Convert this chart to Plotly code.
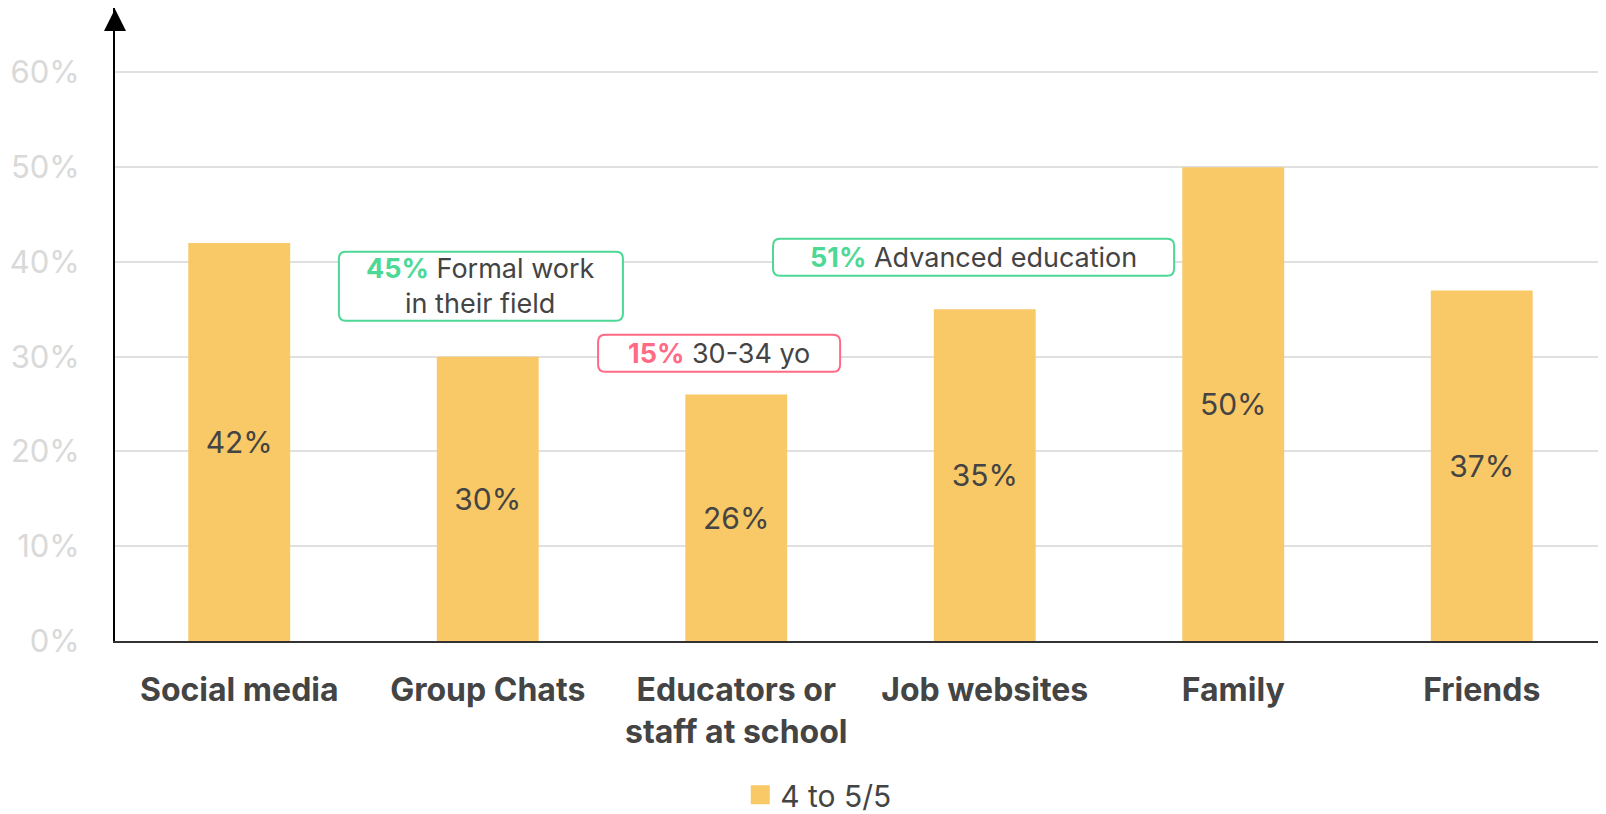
import plotly.graph_objects as go

categories = ["Social media", "Group Chats", "Educators or<br>staff at school", "Job websites", "Family", "Friends"]
values = [42, 30, 26, 35, 50, 37]
series_name = "4 to 5/5"
tick_vals = [0, 10, 20, 30, 40, 50, 60]
tick_text = ["0%", "10%", "20%", "30%", "40%", "50%", "60%"]

callout_pcts = ["45%", "15%", "51%"]
callout_texts = ["Formal work<br>in their field", "30-34 yo", "Advanced education"]
callout_colors = ["#4DD896", "#FF6A85", "#4DD896"]

# callout box extents (layout, in axis units): x0, x1, y0, y1
box_x0 = [0.401, 1.444, 2.148]
box_x1 = [1.544, 2.418, 3.762]
box_y0 = [33.79, 28.41, 38.54]
box_y1 = [41.08, 32.31, 42.45]

BAR = "#F8C966"
DARK = "#444444"
FONT = "Inter"

# pixel scales for rounded corners
PX_PER_CAT = 1491 / 6
PX_PER_PCT = 633 / 66.8
R = 7

fig = go.Figure()
fig.add_trace(go.Bar(
    x=categories, y=values, name=series_name,
    marker=dict(color=BAR, line=dict(width=0)),
    text=[f"{v}%" for v in values], texttemplate="%{text}",
    textposition="inside", insidetextanchor="middle",
    textfont=dict(size=30, color=DARK, family=FONT),
    showlegend=False,
))
# legend entry
fig.add_trace(go.Scatter(
    x=[None], y=[None], mode="markers", name=series_name,
    marker=dict(symbol="square", size=20, color=BAR, line=dict(color=BAR, width=3)),
    showlegend=True,
))

def rounded(x0, x1, y0, y1):
    rx = R / PX_PER_CAT
    ry = R / PX_PER_PCT
    return (f"M {x0+rx},{y1} L {x1-rx},{y1} Q {x1},{y1} {x1},{y1-ry} "
            f"L {x1},{y0+ry} Q {x1},{y0} {x1-rx},{y0} L {x0+rx},{y0} "
            f"Q {x0},{y0} {x0},{y0+ry} L {x0},{y1-ry} Q {x0},{y1} {x0+rx},{y1} Z")

for p, t, c, x0, x1, y0, y1 in zip(callout_pcts, callout_texts, callout_colors,
                                    box_x0, box_x1, box_y0, box_y1):
    fig.add_shape(type="path", path=rounded(x0, x1, y0, y1), xref="x", yref="y",
                  line=dict(color=c, width=2), fillcolor="white", layer="above")
    fig.add_annotation(
        x=(x0 + x1) / 2, y=(y0 + y1) / 2, xref="x", yref="y", showarrow=False,
        text=f"<b><span style='color:{c}'>{p}</span></b> {t}",
        font=dict(size=27, color=DARK, family=FONT),
        align="center",
    )

# arrow head on y axis
fig.add_annotation(x=0, y=1, xref="paper", yref="paper", ax=0, ay=18,
                   axref="pixel", ayref="pixel", showarrow=True,
                   arrowhead=2, arrowsize=2.2, arrowwidth=2, arrowcolor="black", text="")

fig.update_layout(
    width=1598, height=806,
    margin=dict(l=107, r=0, t=0, b=173, autoexpand=False),
    paper_bgcolor="white", plot_bgcolor="white",
    bargap=0.59,
    font=dict(family=FONT, color=DARK),
    legend=dict(orientation="h", x=0.472, xanchor="center", y=-0.243, yanchor="middle",
                font=dict(size=30, color=DARK, family=FONT), itemsizing="trace",
                borderwidth=0),
    xaxis=dict(showline=True, linecolor="#333333", linewidth=2, ticks="",
               tickfont=dict(size=32, color=DARK, family=FONT, weight="bold"),
               ticklabelstandoff=20, showgrid=False, automargin=False,
               range=[-0.5, 5.5]),
    yaxis=dict(range=[0, 66.8], tickvals=tick_vals, ticktext=tick_text,
               showline=True, linecolor="black", linewidth=2,
               gridcolor="#E0E0E0", gridwidth=1.5, zeroline=False,
               tickfont=dict(size=31, color="#D9D9D9", family=FONT),
               ticklabelstandoff=27, automargin=False),
)

fig.write_html("out.html")
